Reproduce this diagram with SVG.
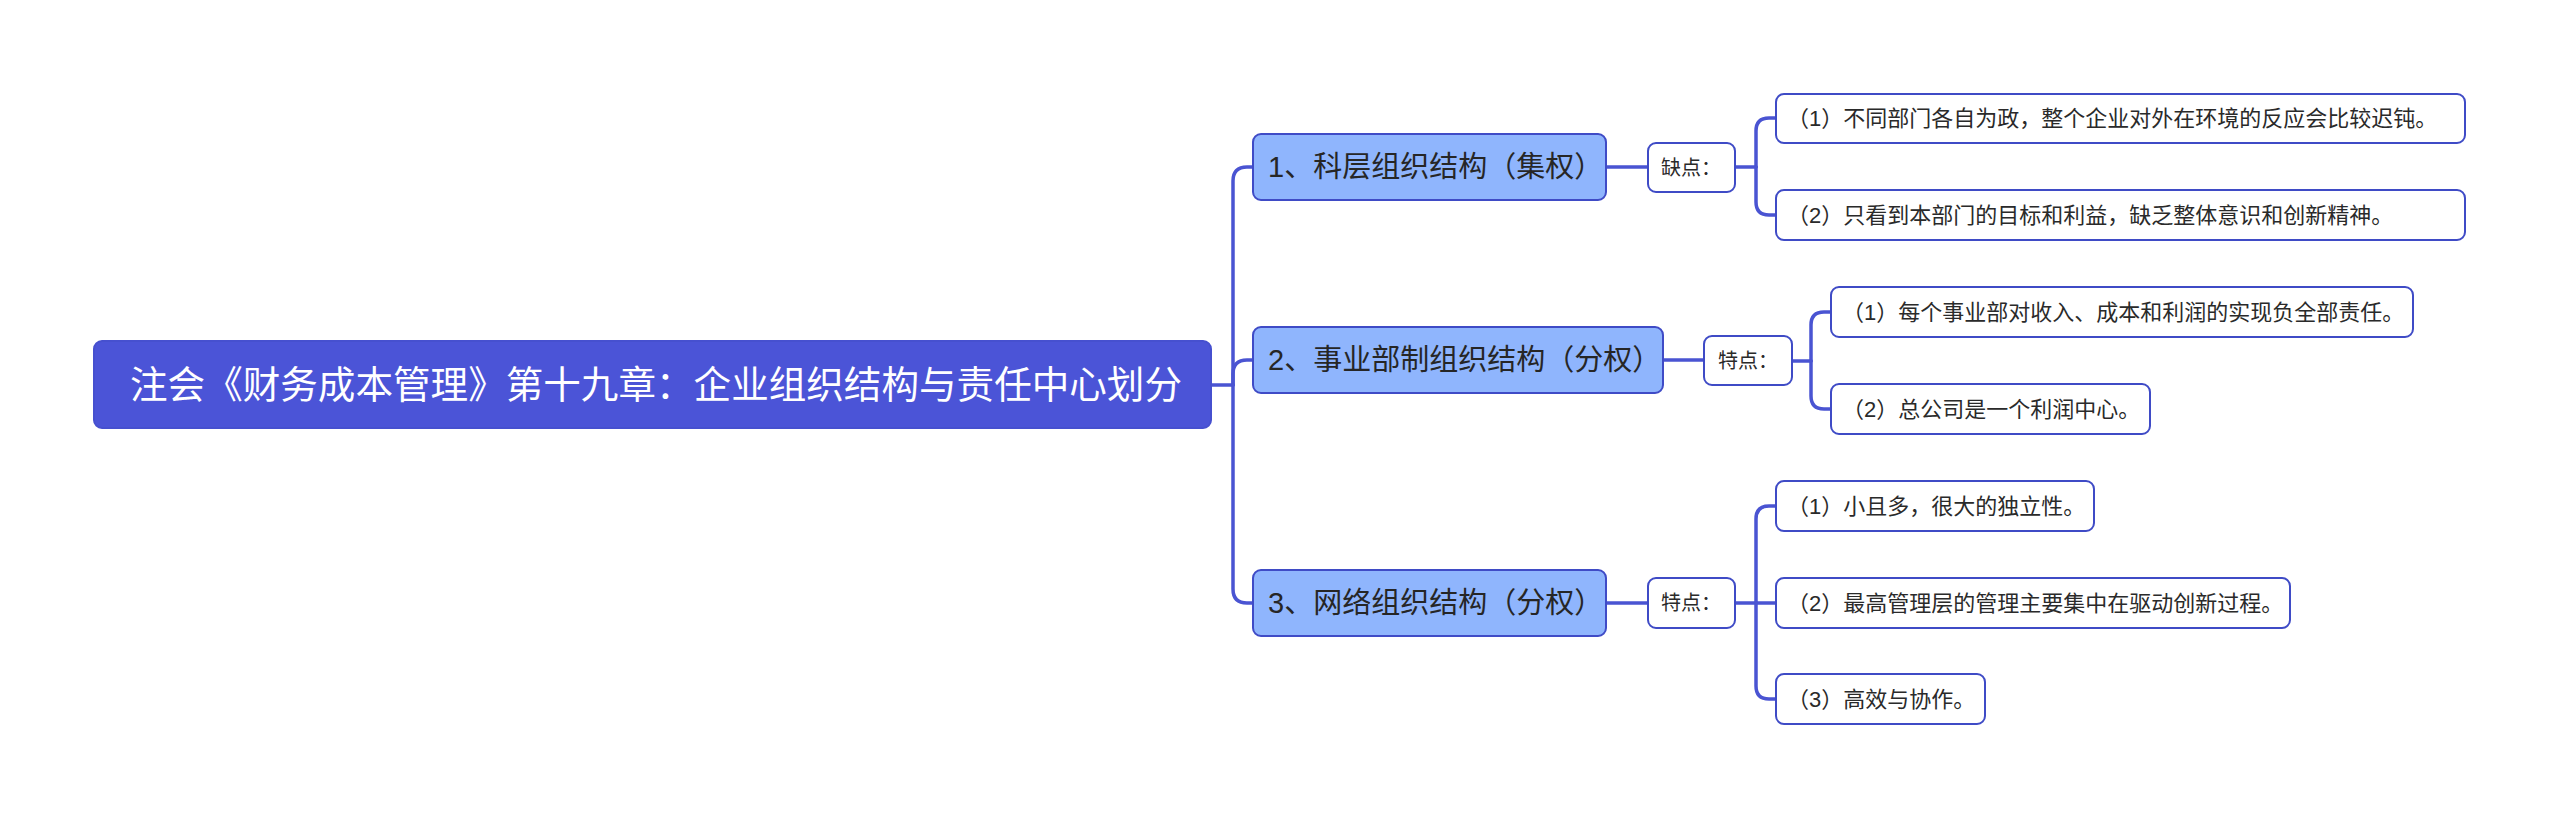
<svg xmlns="http://www.w3.org/2000/svg" width="2560" height="818" viewBox="0 0 2560 818">
<style>
text{font-family:"Liberation Sans","Noto Sans CJK SC",sans-serif;}
.root rect{fill:#4b54d7;stroke:#4650cf;stroke-width:2;}
.root text{fill:#ffffff;font-size:38px;}
.l1 rect{fill:#8fb5fd;stroke:#3f4bc6;stroke-width:2;}
.l1 text{fill:#262626;font-size:29px;}
.lab rect,.leaf rect{fill:#ffffff;stroke:#3f4bc6;stroke-width:2;}
.lab text{fill:#2a2a2a;font-size:20px;text-anchor:middle;}
.leaf text{fill:#2a2a2a;font-size:22px;}
.links path{fill:none;stroke:#4a54d2;stroke-width:3.5;stroke-linecap:round;}
</style>
<rect width="2560" height="818" fill="#ffffff"/>
<g class="links">
<path d="M1211,385 H1233"/>
<path d="M1233,385 V181 Q1233,167 1247,167 H1253"/>
<path d="M1233,385 V374 Q1233,360 1247,360 H1253"/>
<path d="M1233,385 V589 Q1233,603 1247,603 H1253"/>
<path d="M1606,167 H1648"/>
<path d="M1735,167 H1756"/>
<path d="M1756,167 V131 Q1756,118 1769,118 H1776"/>
<path d="M1756,167 V202 Q1756,215 1769,215 H1776"/>
<path d="M1663,360 H1704"/>
<path d="M1792,361 H1811"/>
<path d="M1811,361 V325 Q1811,312 1824,312 H1831"/>
<path d="M1811,361 V396 Q1811,409 1824,409 H1831"/>
<path d="M1606,603 H1648"/>
<path d="M1735,603 H1776"/>
<path d="M1756,603 V519 Q1756,506 1769,506 H1776"/>
<path d="M1756,603 V686 Q1756,699 1769,699 H1776"/>
</g>
<g id="root" class="root">
<rect x="94" y="341" width="1117" height="87" rx="8"/>
<text x="130" y="398" textLength="1052" lengthAdjust="spacingAndGlyphs">注会《财务成本管理》第十九章：企业组织结构与责任中心划分</text>
</g>
<g id="n1" class="l1">
<rect x="1253" y="134" width="353" height="66" rx="8"/>
<text x="1268" y="177">1、科层组织结构（集权）</text>
</g>
<g id="n2" class="l1">
<rect x="1253" y="327" width="410" height="66" rx="8"/>
<text x="1268" y="370">2、事业部制组织结构（分权）</text>
</g>
<g id="n3" class="l1">
<rect x="1253" y="570" width="353" height="66" rx="8"/>
<text x="1268" y="613">3、网络组织结构（分权）</text>
</g>
<g id="n1a" class="lab">
<rect x="1648" y="143" width="87" height="49" rx="8"/>
<text x="1691" y="175">缺点：</text>
</g>
<g id="n2a" class="lab">
<rect x="1704" y="336" width="88" height="49" rx="8"/>
<text x="1748" y="368">特点：</text>
</g>
<g id="n3a" class="lab">
<rect x="1648" y="578" width="87" height="50" rx="8"/>
<text x="1691" y="610">特点：</text>
</g>
<g id="l1a" class="leaf">
<rect x="1776" y="94" width="689" height="49" rx="8"/>
<text x="1787" y="126">（1）不同部门各自为政，整个企业对外在环境的反应会比较迟钝。</text>
</g>
<g id="l1b" class="leaf">
<rect x="1776" y="190" width="689" height="50" rx="8"/>
<text x="1787" y="223">（2）只看到本部门的目标和利益，缺乏整体意识和创新精神。</text>
</g>
<g id="l2a" class="leaf">
<rect x="1831" y="287" width="582" height="50" rx="8"/>
<text x="1842" y="320">（1）每个事业部对收入、成本和利润的实现负全部责任。</text>
</g>
<g id="l2b" class="leaf">
<rect x="1831" y="384" width="319" height="50" rx="8"/>
<text x="1842" y="417">（2）总公司是一个利润中心。</text>
</g>
<g id="l3a" class="leaf">
<rect x="1776" y="481" width="318" height="50" rx="8"/>
<text x="1787" y="514">（1）小且多，很大的独立性。</text>
</g>
<g id="l3b" class="leaf">
<rect x="1776" y="578" width="514" height="50" rx="8"/>
<text x="1787" y="611">（2）最高管理层的管理主要集中在驱动创新过程。</text>
</g>
<g id="l3c" class="leaf">
<rect x="1776" y="674" width="209" height="50" rx="8"/>
<text x="1787" y="707">（3）高效与协作。</text>
</g>
</svg>
